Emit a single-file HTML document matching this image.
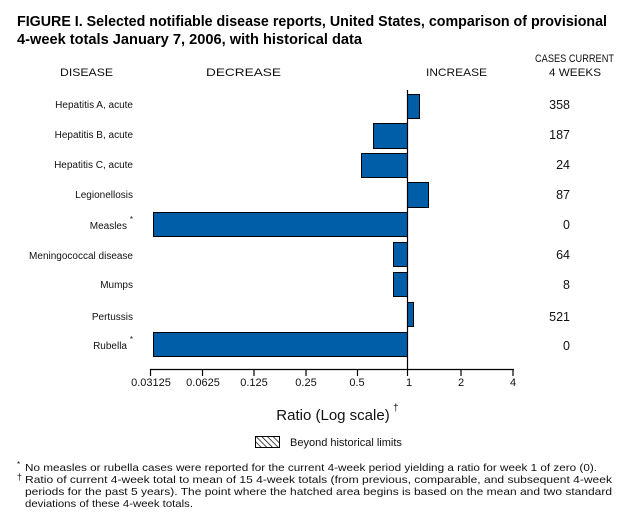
<!DOCTYPE html>
<html><head><meta charset="utf-8"><style>
html,body{margin:0;padding:0;background:#fff;}
svg{display:block;font-family:"Liberation Sans",Arial,sans-serif;}
</style></head><body>
<svg width="636" height="530" viewBox="0 0 636 530" xmlns="http://www.w3.org/2000/svg">
<defs><pattern id="h" width="4" height="4" patternUnits="userSpaceOnUse" patternTransform="rotate(-45)"><line x1="0" y1="0" x2="0" y2="4" stroke="#000" stroke-width="1.4"/></pattern></defs>
<g font-weight="bold" font-size="14.5" fill="#000">
<text x="17" y="26" textLength="590" lengthAdjust="spacingAndGlyphs">FIGURE I. Selected notifiable disease reports, United States, comparison of provisional</text>
<text x="17" y="44" textLength="345" lengthAdjust="spacingAndGlyphs">4-week totals January 7, 2006, with historical data</text>
</g>
<g font-size="11" fill="#111">
<text x="60" y="76" textLength="53" lengthAdjust="spacingAndGlyphs">DISEASE</text>
<text x="206" y="76" textLength="75" lengthAdjust="spacingAndGlyphs">DECREASE</text>
<text x="426" y="76" textLength="61" lengthAdjust="spacingAndGlyphs">INCREASE</text>
<text x="535" y="62" textLength="79" lengthAdjust="spacingAndGlyphs">CASES CURRENT</text>
<text x="549" y="76" textLength="52" lengthAdjust="spacingAndGlyphs">4 WEEKS</text>
</g>
<g font-size="10" fill="#111" text-anchor="end">
<text x="133" y="108">Hepatitis A, acute</text>
<text x="133" y="138">Hepatitis B, acute</text>
<text x="133" y="168">Hepatitis C, acute</text>
<text x="133" y="198">Legionellosis</text>
<text x="127" y="229">Measles</text><text x="133" y="222" font-size="8">*</text>
<text x="133" y="259">Meningococcal disease</text>
<text x="133" y="288">Mumps</text>
<text x="133" y="320">Pertussis</text>
<text x="127" y="349">Rubella</text><text x="133" y="342" font-size="8">*</text>
</g>
<g font-size="12.5" fill="#111" text-anchor="end">
<text x="570" y="109">358</text><text x="570" y="139">187</text><text x="570" y="169">24</text>
<text x="570" y="199">87</text><text x="570" y="229">0</text><text x="570" y="259">64</text>
<text x="570" y="289">8</text><text x="570" y="321">521</text><text x="570" y="350">0</text>
</g>
<g fill="#005ea8" stroke="#000" stroke-width="1">
<rect x="407.5" y="94.5" width="12" height="24"/>
<rect x="373.5" y="123.5" width="34" height="25"/>
<rect x="361.5" y="153.5" width="46" height="24"/>
<rect x="407.5" y="182.5" width="21" height="25"/>
<rect x="153.5" y="212.5" width="254" height="24"/>
<rect x="393.5" y="242.5" width="14" height="24"/>
<rect x="393.5" y="272.5" width="14" height="24"/>
<rect x="407.5" y="302.5" width="6" height="24"/>
<rect x="153.5" y="332.5" width="254" height="24"/>
</g>
<line x1="407.5" y1="90" x2="407.5" y2="370" stroke="#000" stroke-width="1.2"/>
<line x1="150" y1="369.5" x2="514" y2="369.5" stroke="#000" stroke-width="1.2"/>
<g stroke="#000" stroke-width="1.2">
<line x1="150.5" y1="369" x2="150.5" y2="376"/><line x1="202.5" y1="369" x2="202.5" y2="376"/>
<line x1="254" y1="369" x2="254" y2="376"/><line x1="306" y1="369" x2="306" y2="376"/>
<line x1="357.5" y1="369" x2="357.5" y2="376"/><line x1="407.5" y1="369" x2="407.5" y2="376"/>
<line x1="461" y1="369" x2="461" y2="376"/><line x1="513" y1="369" x2="513" y2="376"/>
</g>
<g font-size="11" fill="#111" text-anchor="middle">
<text x="151" y="386">0.03125</text><text x="203" y="386">0.0625</text><text x="254" y="386">0.125</text>
<text x="306" y="386">0.25</text><text x="357" y="386">0.5</text><text x="409" y="386">1</text>
<text x="461" y="386">2</text><text x="513" y="386">4</text>
</g>
<text x="333" y="420" font-size="15" fill="#111" text-anchor="middle">Ratio (Log scale)</text>
<text x="393" y="411" font-size="10" fill="#111">†</text>
<rect x="255.5" y="436.5" width="24" height="11" fill="url(#h)" stroke="#000"/>
<text x="290" y="446" font-size="11" fill="#111">Beyond historical limits</text>
<g font-size="10.5" fill="#111">
<text x="17" y="467" font-size="8">*</text>
<text x="25" y="471" textLength="572" lengthAdjust="spacingAndGlyphs">No measles or rubella cases were reported for the current 4-week period yielding a ratio for week 1 of zero (0).</text>
<text x="17" y="480" font-size="9">†</text>
<text x="25" y="483" textLength="587" lengthAdjust="spacingAndGlyphs">Ratio of current 4-week total to mean of 15 4-week totals (from previous, comparable, and subsequent 4-week</text>
<text x="25" y="495" textLength="587" lengthAdjust="spacingAndGlyphs">periods for the past 5 years). The point where the hatched area begins is based on the mean and two standard</text>
<text x="25" y="507" textLength="168" lengthAdjust="spacingAndGlyphs">deviations of these 4-week totals.</text>
</g>
</svg>
</body></html>
